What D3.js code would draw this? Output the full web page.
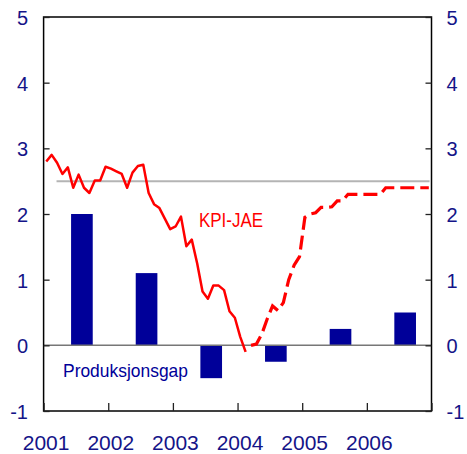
<!DOCTYPE html>
<html>
<head>
<meta charset="utf-8">
<script src="https://cdn.jsdelivr.net/npm/d3@7"></script>
<style>
  html, body { margin: 0; padding: 0; background: #fff; }
  svg { display: block; }
  text { font-family: Arial, "Liberation Sans", sans-serif; }
</style>
</head>
<body>
<svg id="chart" width="467" height="454"></svg>
<script>
// ---- data ----
const years = [2001, 2002, 2003, 2004, 2005, 2006];
const outputGap = [2.0, 1.1, -0.5, -0.25, 0.25, 0.5];
const yTicks = [-1, 0, 1, 2, 3, 4, 5];
const xTickYears = [2001, 2002, 2003, 2004, 2005, 2006, 2007];
const xLabels = ["2001", "2002", "2003", "2004", "2005", "2006"];
// KPI-JAE monthly, Jan 2001 - Feb 2004 (actual)
const kpiActual = [2.80, 2.90, 2.78, 2.61, 2.71, 2.40, 2.60, 2.40, 2.32, 2.51, 2.51, 2.72,
                   2.69, 2.65, 2.61, 2.40, 2.63, 2.73, 2.75, 2.32, 2.15, 2.09, 1.93, 1.77,
                   1.81, 1.96, 1.51, 1.61, 1.25, 0.82, 0.71, 0.91, 0.91, 0.84, 0.52, 0.42,
                   0.13, -0.10];
// KPI-JAE monthly projection, Mar 2004 - Dec 2006
const kpiForecast = [0.00, 0.02, 0.17, 0.40, 0.60, 0.53, 0.65, 1.00, 1.22, 1.35,
                     1.95, 2.00, 2.02, 2.10, 2.10, 2.11, 2.20, 2.20, 2.30, 2.30,
                     2.30, 2.30, 2.30, 2.30, 2.30, 2.40, 2.40, 2.40, 2.40, 2.40,
                     2.40, 2.40, 2.40, 2.40];
const forecastStartMonth = 38;
const targetValue = 2.5;
const targetSpan = [2001.2, 2006.97];

// ---- layout ----
const svg = d3.select("#chart");
const x = d3.scaleLinear().domain([2001, 2007]).range([43.6, 431.5]);
const y = d3.scaleLinear().domain([-1, 5]).range([411, 17]);
const navy = "#141488";

const monthX = m => x(2001 + (m + 0.5) / 12);

// bars
svg.append("g").selectAll("rect").data(years).join("rect")
  .attr("x", (d) => x(d + 0.425))
  .attr("width", (d) => x(d + 0.76) - x(d + 0.425))
  .attr("y", (d, i) => y(Math.max(0, outputGap[i])))
  .attr("height", (d, i) => Math.abs(y(outputGap[i]) - y(0)))
  .attr("fill", "#000099");

// zero line
svg.append("line")
  .attr("x1", x(2001)).attr("x2", x(2007))
  .attr("y1", y(0)).attr("y2", y(0))
  .attr("stroke", "#777").attr("stroke-width", 1.5);

// target line
svg.append("line")
  .attr("x1", x(targetSpan[0])).attr("x2", x(targetSpan[1]))
  .attr("y1", y(targetValue)).attr("y2", y(targetValue))
  .attr("stroke", "#b4b4b4").attr("stroke-width", 2);

// KPI lines
const line = d3.line().x(d => monthX(d.m)).y(d => y(d.v));
svg.append("path")
  .datum(kpiActual.map((v, i) => ({ m: i, v })))
  .attr("d", line)
  .attr("fill", "none").attr("stroke", "#ff0000").attr("stroke-width", 2.5)
  .attr("stroke-linejoin", "round");
svg.append("path")
  .datum(kpiForecast.map((v, i) => ({ m: forecastStartMonth + i, v })))
  .attr("d", line)
  .attr("fill", "none").attr("stroke", "#ff0000").attr("stroke-width", 3.2)
  .attr("stroke-dasharray", "14,6");

// frame
svg.append("rect")
  .attr("x", x(2001)).attr("y", y(5))
  .attr("width", x(2007) - x(2001)).attr("height", y(-1) - y(5))
  .attr("fill", "none").attr("stroke", "#000").attr("stroke-width", 1.5);

// y ticks (inward, both sides)
const yAxisL = d3.axisRight(y).tickValues(yTicks).tickSize(6).tickFormat("");
const gL = svg.append("g").attr("transform", `translate(${x(2001)},0)`).call(yAxisL);
const yAxisR = d3.axisLeft(y).tickValues(yTicks).tickSize(6).tickFormat("");
const gR = svg.append("g").attr("transform", `translate(${x(2007)},0)`).call(yAxisR);
// x ticks (inward)
const xAxis = d3.axisTop(x).tickValues(xTickYears).tickSize(8).tickFormat("");
const gX = svg.append("g").attr("transform", `translate(0,${y(-1)})`).call(xAxis);
[gL, gR, gX].forEach(g => {
  g.select(".domain").remove();
  g.selectAll(".tick line").attr("stroke", "#222").attr("stroke-width", 1.3);
});

// y labels
svg.append("g").selectAll("text").data(yTicks).join("text")
  .attr("x", 28).attr("y", d => y(d) + 8)
  .attr("text-anchor", "end").attr("font-size", 20).attr("fill", navy)
  .text(d => d);
svg.append("g").selectAll("text").data(yTicks).join("text")
  .attr("x", 446.5).attr("y", d => y(d) + 8)
  .attr("text-anchor", "start").attr("font-size", 20).attr("fill", navy)
  .text(d => d);

// x labels
svg.append("g").selectAll("text").data(xLabels).join("text")
  .attr("x", d => x(+d) + 2.5).attr("y", 450)
  .attr("text-anchor", "middle").attr("font-size", 21).attr("fill", navy)
  .text(d => d);

// series labels
svg.append("text")
  .attr("x", 199).attr("y", 226.5)
  .attr("font-size", 20).attr("fill", "#ff0000")
  .attr("textLength", 64).attr("lengthAdjust", "spacingAndGlyphs")
  .text("KPI-JAE");
svg.append("text")
  .attr("x", 63).attr("y", 376.5)
  .attr("font-size", 19).attr("fill", "#000099")
  .attr("textLength", 125).attr("lengthAdjust", "spacingAndGlyphs")
  .text("Produksjonsgap");
</script>
</body>
</html>
